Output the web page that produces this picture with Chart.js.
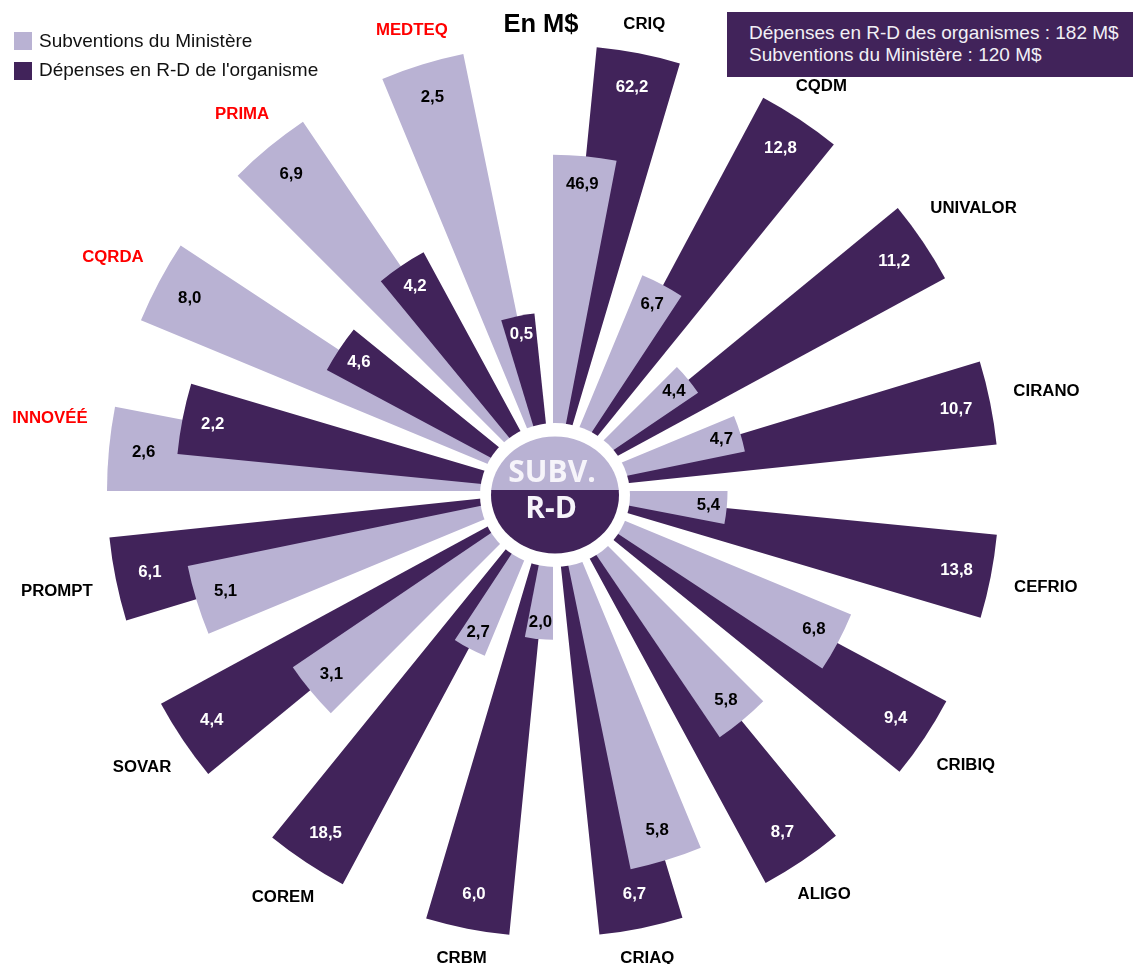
<!DOCTYPE html>
<html lang="fr">
<head>
<meta charset="utf-8">
<title>Subventions du Ministère et dépenses en R-D</title>
<script src="https://cdn.jsdelivr.net/npm/chart.js@4.4.1/dist/chart.umd.min.js"></script>
<style>
  html, body { margin: 0; padding: 0; background: #fff; }
  #cadre { position: relative; width: 1135px; height: 964px; font-family: "Liberation Sans", Arial, sans-serif; }
  #graphique { position: absolute; left: 0; top: 0; }
  .carre { position: absolute; left: 14px; width: 18px; height: 18px; }
  .legende { position: absolute; left: 39px; font-size: 19px; line-height: 22px; color: #111; white-space: nowrap; }
  #titre { position: absolute; left: 541px; top: 8px; transform: translateX(-50%); font-weight: bold; font-size: 25.5px; line-height: 30px; color: #000; }
  #boite { position: absolute; left: 727px; top: 12px; width: 384px; height: 55px; padding: 10px 0 0 22px; background: #41235A; color: #f2f0f6; font-size: 19px; line-height: 21.5px; white-space: nowrap; }
</style>
</head>
<body>
<div id="cadre">
  <canvas id="graphique" width="1135" height="964"></canvas>
  <div class="carre" style="top:32px; background:#B9B2D3"></div>
  <div class="legende" style="top:30px">Subventions du Ministère</div>
  <div class="carre" style="top:62px; background:#41235A"></div>
  <div class="legende" style="top:59px">Dépenses en R-D de l'organisme</div>
  <div id="titre">En M$</div>
  <div id="boite">Dépenses en R-D des organismes : 182 M$<br>Subventions du Ministère : 120 M$</div>
</div>
<script>
// Données (en M$), dans l'ordre horaire à partir du haut
var organismes = ['CRIQ', 'CQDM', 'UNIVALOR', 'CIRANO', 'CEFRIO', 'CRIBIQ', 'ALIGO', 'CRIAQ',
                  'CRBM', 'COREM', 'SOVAR', 'PROMPT', 'INNOVÉÉ', 'CQRDA', 'PRIMA', 'MEDTEQ'];
var subventions = [46.9, 6.7, 4.4, 4.7, 5.4, 6.8, 5.8, 5.8, 2.0, 2.7, 3.1, 5.1, 2.6, 8.0, 6.9, 2.5];
var depensesRD = [62.2, 12.8, 11.2, 10.7, 13.8, 9.4, 8.7, 6.7, 6.0, 18.5, 4.4, 6.1, 2.2, 4.6, 4.2, 0.5];

var CLAIR = '#B9B2D3';
var FONCE = '#41235A';
var POLICE = '"Liberation Sans", Arial, sans-serif';

// chaque organisme : la plus grande valeur des deux = 100 %, l'autre en proportion
// (une barre trop courte est allongée a 40 % pour rester visible)
function longueur(v, autre) {
    var ratio = v / Math.max(v, autre);
    return (ratio < 0.3 ? 0.4 : ratio) * 100;
}

var SECTEUR = 360 / organismes.length;  // 22,5 degrés par organisme
var LARGEUR = 10.9;                       // largeur angulaire d'une barre
var DECALAGE = 5.625;                     // la barre R-D chevauche la moitié de la subvention

var dataSubv = [], angSubv = [], dataRD = [], angRD = [];
organismes.forEach(function(nom, i) {
    dataSubv.push(longueur(subventions[i], depensesRD[i]), 0);
    angSubv.push(LARGEUR, SECTEUR - LARGEUR);
    dataRD.push(0, longueur(depensesRD[i], subventions[i]), 0);
    angRD.push(DECALAGE, LARGEUR, SECTEUR - DECALAGE - LARGEUR);
});

function format(v) {
    return v.toFixed(1).replace('.', ',');
}

function milieu(arc) {
    return (arc.startAngle + arc.endAngle) / 2;
}

var dessinPlugin = {
    id: 'dessin',
    // dessiner la barre la plus longue d'abord, la plus courte par-dessus
    beforeDatasetsDraw: function(chart) {
        var ctx = chart.ctx;
        var clair = chart.getDatasetMeta(0).data;
        var fonce = chart.getDatasetMeta(1).data;
        organismes.forEach(function(nom, i) {
            var a = clair[2 * i], b = fonce[3 * i + 1];
            if (a.outerRadius >= b.outerRadius) { a.draw(ctx); b.draw(ctx); }
            else { b.draw(ctx); a.draw(ctx); }
        });
        return false;
    },
    afterDraw: function(chart) {
        var ctx = chart.ctx;
        var clair = chart.getDatasetMeta(0).data;
        var fonce = chart.getDatasetMeta(1).data;
        var cx = chart.scales.r.xCenter, cy = chart.scales.r.yCenter;

        // disque central
        ctx.save();
        ctx.fillStyle = '#fff';
        ctx.beginPath();
        ctx.ellipse(cx + 2, cy + 4, 75, 72, 0, 0, Math.PI * 2);
        ctx.fill();
        ctx.beginPath();
        ctx.ellipse(cx + 2, cy + 4, 64, 58.5, 0, 0, Math.PI * 2);
        ctx.clip();
        ctx.fillStyle = CLAIR;
        ctx.fillRect(cx - 70, cy - 70, 140, 70);
        ctx.fillStyle = FONCE;
        ctx.fillRect(cx - 70, cy - 1, 140, 75);
        ctx.restore();

        ctx.save();
        ctx.fillStyle = '#f6f4fa';
        ctx.textAlign = 'center';
        ctx.textBaseline = 'middle';
        ctx.font = 'bold 30px "Open Sans", "Noto Sans", sans-serif';
        ctx.fillText('SUBV.', cx - 1, cy - 18);
        ctx.fillText('R-D', cx - 2, cy + 18);
        ctx.restore();

        // valeurs dans les barres
        ctx.save();
        ctx.textAlign = 'center';
        ctx.textBaseline = 'middle';
        ctx.font = 'bold 16.8px ' + POLICE;
        function valeur(arc, texte, couleur) {
            var ang = milieu(arc);
            var r = arc.outerRadius * 0.94 - 8;
            ctx.fillStyle = couleur;
            ctx.fillText(texte, arc.x + r * Math.cos(ang), arc.y + r * Math.sin(ang));
        }
        organismes.forEach(function(nom, i) {
            valeur(clair[2 * i], format(subventions[i]), '#000');
            valeur(fonce[3 * i + 1], format(depensesRD[i]), '#fff');
        });

        // noms des organismes (en rouge si la subvention dépasse les dépenses)
        organismes.forEach(function(nom, i) {
            var a = clair[2 * i], b = fonce[3 * i + 1];
            var ang;
            if (subventions[i] > depensesRD[i] * 1.25) ang = milieu(a);
            else if (subventions[i] > depensesRD[i]) ang = (milieu(a) + milieu(b)) / 2;
            else ang = milieu(b);
            var rMax = Math.max(a.outerRadius, b.outerRadius);
            var w = ctx.measureText(nom).width;
            var r = rMax + 25 + Math.abs(Math.cos(ang)) * w / 2;
            ctx.fillStyle = subventions[i] > depensesRD[i] ? '#FF0000' : '#000';
            ctx.fillText(nom, cx + r * Math.cos(ang), cy + r * Math.sin(ang));
        });
        ctx.restore();
    }
};

new Chart(document.getElementById('graphique'), {
    type: 'polarArea',
    data: {
        labels: [],
        datasets: [{
            label: 'Subventions du Ministère',
            data: dataSubv,
            backgroundColor: CLAIR,
            borderWidth: 0,
            angle: function(c) { return angSubv[c.dataIndex]; }
        }, {
            label: "Dépenses en R-D de l'organisme",
            data: dataRD,
            backgroundColor: FONCE,
            borderWidth: 0,
            angle: function(c) { return angRD[c.dataIndex]; }
        }]
    },
    options: {
        responsive: false,
        animation: false,
        devicePixelRatio: 1,
        layout: { padding: { left: 107, right: 136, top: 45, bottom: 27 } },
        plugins: {
            legend: { display: false },
            tooltip: { enabled: false }
        },
        scales: {
            r: { display: false, min: 0, max: 100 }
        }
    },
    plugins: [dessinPlugin]
});
</script>
</body>
</html>
